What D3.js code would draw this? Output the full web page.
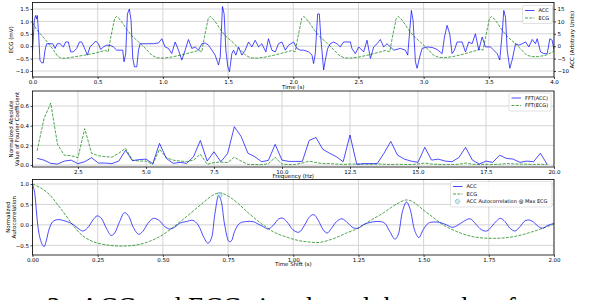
<!doctype html>
<html lang="en">
  <head>
    <meta charset="utf-8" />
    <title>ACC and ECG</title>
    <script src="https://cdn.jsdelivr.net/npm/d3@7"></script>
    <style>
      body { margin: 0; background: #fff; }
      svg { display: block; }
      text { font-family: "DejaVu Sans", sans-serif; fill: #000; }
    </style>
  </head>
  <body>
    <svg id="main" width="600" height="300"></svg>
    <script>
      // ---- panel 1: raw signals over 4 s ----
      const ecgTime = [0, 0.03, 0.05, 0.08, 0.12, 0.16, 0.19, 0.22, 0.26, 0.32, 0.40, 0.48, 0.55,
        0.56, 0.58, 0.60, 0.63, 0.645, 0.67, 0.695, 0.725, 0.765, 0.825, 0.875, 0.915, 0.955, 1.005, 1.065, 1.145, 1.225, 1.275,
        1.298, 1.318, 1.348, 1.363, 1.388, 1.413, 1.443, 1.483, 1.543, 1.593, 1.633, 1.673, 1.723, 1.783, 1.863, 1.943, 1.993,
        2.015, 2.035, 2.065, 2.08, 2.105, 2.13, 2.16, 2.20, 2.26, 2.31, 2.35, 2.39, 2.44, 2.50, 2.58, 2.66, 2.71,
        2.74, 2.76, 2.79, 2.805, 2.83, 2.855, 2.885, 2.925, 2.985, 3.035, 3.075, 3.115, 3.165, 3.225, 3.305, 3.385, 3.435,
        3.455, 3.475, 3.505, 3.52, 3.545, 3.57, 3.60, 3.64, 3.70, 3.75, 3.79, 3.83, 3.88, 3.94, 4.0];
      const ecgValue = [0.95, 0.68, 0.55, 0.38, 0.13, -0.15, -0.38, -0.49, -0.48, -0.43, -0.36, -0.28, -0.18,
        -0.17, -0.23, 0.35, 1.12, 1.2, 1.08, 0.9, 0.66, 0.40, 0.12, -0.14, -0.36, -0.47, -0.48, -0.44, -0.35, -0.24, -0.17,
        -0.23, 0.35, 1.12, 1.2, 1.08, 0.9, 0.66, 0.40, 0.12, -0.14, -0.36, -0.47, -0.48, -0.44, -0.35, -0.24, -0.17,
        -0.23, 0.35, 1.12, 1.2, 1.08, 0.9, 0.66, 0.40, 0.12, -0.14, -0.36, -0.47, -0.48, -0.44, -0.35, -0.24, -0.17,
        -0.23, 0.35, 1.12, 1.2, 1.08, 0.9, 0.66, 0.40, 0.12, -0.14, -0.36, -0.45, -0.46, -0.42, -0.32, -0.2, -0.12,
        -0.16, 0.35, 1.12, 1.2, 1.08, 0.9, 0.66, 0.40, 0.12, -0.14, -0.36, -0.42, -0.42, -0.36, -0.2];

      const accTime = [0, 0.014, 0.024, 0.032, 0.037, 0.047, 0.057, 0.07, 0.083, 0.096, 0.109, 0.134, 0.155, 0.173, 0.19,
        0.211, 0.237, 0.254, 0.275, 0.293, 0.313, 0.339, 0.36, 0.377, 0.395, 0.421, 0.441, 0.467, 0.485, 0.505, 0.523,
        0.544, 0.569, 0.595, 0.62, 0.646, 0.672, 0.692, 0.702, 0.715, 0.728, 0.743, 0.756, 0.769, 0.782, 0.8, 0.813,
        0.825, 0.877, 0.928, 0.966, 0.992, 1.017, 1.043, 1.068, 1.094, 1.12, 1.145, 1.171, 1.196, 1.222, 1.248, 1.273,
        1.299, 1.324, 1.35, 1.376, 1.401, 1.427, 1.44, 1.457, 1.47, 1.483, 1.498, 1.511, 1.529, 1.542, 1.56, 1.58,
        1.606, 1.631, 1.657, 1.683, 1.708, 1.734, 1.759, 1.79, 1.81, 1.836, 1.862, 1.887, 1.913, 1.939, 1.964, 2.003,
        2.028, 2.054, 2.08, 2.118, 2.144, 2.156, 2.169, 2.187, 2.2, 2.213, 2.233, 2.246, 2.264, 2.284, 2.31, 2.335,
        2.361, 2.386, 2.412, 2.438, 2.45, 2.476, 2.502, 2.54, 2.566, 2.592, 2.617, 2.643, 2.668, 2.694, 2.719, 2.745,
        2.771, 2.822, 2.86, 2.878, 2.906, 2.919, 2.937, 2.95, 2.97, 2.988, 3.027, 3.065, 3.103, 3.142, 3.16, 3.18,
        3.2, 3.218, 3.236, 3.257, 3.295, 3.321, 3.346, 3.372, 3.397, 3.423, 3.449, 3.474, 3.513, 3.538, 3.564, 3.584,
        3.602, 3.615, 3.628, 3.641, 3.661, 3.679, 3.705, 3.73, 3.756, 3.782, 3.807, 3.833, 3.858, 3.871, 3.897, 3.922,
        3.948, 3.968, 3.986, 4.0];
      const accValue = [-2, 10.4, 12.4, 11, 12.4, 5, -5.6, -6.7, -6.7, -1.6, 1, 1, 1, -0.9, 1,
        1, -0.3, 1.7, 1.7, -2.3, -2.3, -0.9, 1.7, 1.7, -0.3, -3.6, -0.3, 1, 2.1, 1, -1.3,
        -0.3, 0.4, 0.4, -0.3, -1.6, -1.6, -1.6, -6.3, -3, 13, 15, 10.4, -4.9, -8.3, -8.3, -1.6,
        1, 1, 1, 1.3, 3, -0.3, -0.9, -3, 1.7, -1.6, -5.6, -1.6, 2.7, -0.9, -0.3, -1.6,
        1, 1.3, 0.4, -1.6, -3.6, -7.6, -4.3, 16, 13, -1.6, -8.3, -10.3, -3, -1.6, -3.6, -0.3,
        -3.6, -1.6, 1.7, -0.3, 2.4, -0.3, 1, -2.3, 3, -1.6, -2.3, 1, 1.7, -1.6, 0.4, 1.7,
        -0.9, -1.6, -1.6, -2.3, -3.6, -7, -3, 13, 13, 2.4, -9.6, -5.6, -0.9, 1, 1.7, 1,
        -0.3, 1.7, 1.7, 1.7, -0.9, -3, -0.3, -2.3, 2.4, -4.9, -0.3, 1, 2.7, -0.3, 1, -0.3,
        -1.6, -0.9, -1.6, -3.6, 14.4, 10.4, -6.3, -8.9, -4.3, -0.9, -0.3, -0.5, -1.3, -3, 3.7, 8.4,
        5, -3, -1.6, 1.7, 1.7, -2.3, 1.7, 1, 5, -1.6, 3.7, -0.3, -0.3, -1.6, -3, -5.6,
        5, 14.4, 11.7, -1.6, -8.9, -5.6, 1, 0.4, 1, 1.7, -0.3, 2.7, 1, 3, -2.3, -3,
        -3, 3, 2.4, -1.6];

      // ---- panel 2: normalized FFT magnitudes ----
      const fftFreq = [1, 1.25, 1.5, 1.75, 2, 2.25, 2.5, 2.75, 3, 3.25, 3.5, 3.75, 4, 4.25, 4.5, 4.75,
        5, 5.25, 5.5, 5.75, 6, 6.25, 6.5, 6.75, 7, 7.25, 7.5, 7.75, 8, 8.25, 8.5, 8.75,
        9, 9.25, 9.5, 9.75, 10, 10.25, 10.5, 10.75, 11, 11.25, 11.5, 11.75, 12, 12.25, 12.5, 12.75,
        13, 13.25, 13.5, 13.75, 14, 14.25, 14.5, 14.75, 15, 15.25, 15.5, 15.75, 16, 16.25, 16.5, 16.75,
        17, 17.25, 17.5, 17.75, 18, 18.25, 18.5, 18.75, 19, 19.25, 19.5, 19.75];
      const fftAcc = [0.068, 0.05, 0.017, 0.01, 0.04, 0.05, 0.014, 0.034, 0.075, 0.02, 0.02, 0.014, 0.04, 0.15, 0.045, 0.055,
        0.06, 0.014, 0.22, 0.068, 0.017, 0.027, 0.017, 0.085, 0.25, 0.04, 0.135, 0.034, 0.115, 0.39, 0.29, 0.12,
        0.085, 0.034, 0.047, 0.21, 0.05, 0.037, 0.037, 0.037, 0.25, 0.28, 0.16, 0.12, 0.085, 0.034, 0.305, 0.007,
        0.014, 0.014, 0.014, 0.12, 0.24, 0.1, 0.06, 0.04, 0.027, 0.18, 0.05, 0.06, 0.04, 0.034, 0.075, 0.18,
        0.05, 0.01, 0.04, 0.027, 0.1, 0.068, 0.06, 0.027, 0.04, 0.034, 0.12, 0.007];
      const fftEcg = [0.146, 0.47, 0.63, 0.21, 0.1, 0.095, 0.075, 0.37, 0.12, 0.095, 0.085, 0.08, 0.12, 0.17, 0.05, 0.04,
        0.04, 0.007, 0.16, 0.075, 0.05, 0.04, 0.035, 0.05, 0.11, 0.007, 0.025, 0.03, 0.025, 0.08, 0.04, 0.007,
        0.004, 0.004, 0.013, 0.078, 0.01, 0.004, 0.006, 0.02, 0.04, 0.025, 0.015, 0.015, 0.01, 0.006, 0.01, 0.01,
        0.01, 0.008, 0.012, 0.008, 0.005, 0.008, 0.006, 0.006, 0.01, 0.02, 0.01, 0.006, 0.006, 0.006, 0.008, 0.02,
        0.008, 0.005, 0.008, 0.006, 0.008, 0.015, 0.012, 0.01, 0.008, 0.006, 0.008, 0.004];

      // ---- panel 3: normalized autocorrelations ----
      const acLagEcg = [0, 0.033, 0.065, 0.097, 0.129, 0.16, 0.193, 0.232, 0.283, 0.347, 0.4, 0.45, 0.5, 0.551,
        0.6, 0.65, 0.69, 0.715, 0.74, 0.78, 0.83, 0.884, 0.93, 0.98, 1.025, 1.063, 1.1, 1.153, 1.204, 1.249,
        1.294, 1.345, 1.396, 1.434, 1.46, 1.498, 1.537, 1.575, 1.626, 1.69, 1.767, 1.844, 1.921, 2.0];
      const acEcg = [1, 0.9, 0.74, 0.49, 0.22, -0.05, -0.27, -0.41, -0.49, -0.52, -0.49, -0.4, -0.24, 0,
        0.25, 0.52, 0.72, 0.78, 0.74, 0.57, 0.28, 0, -0.19, -0.31, -0.39, -0.42, -0.43, -0.34, -0.2, -0.08,
        0.1, 0.29, 0.51, 0.61, 0.56, 0.37, 0.18, 0, -0.16, -0.29, -0.33, -0.29, -0.16, 0.02];
      const acLagAcc = [0, 0.008, 0.014, 0.02, 0.029, 0.04, 0.045, 0.052, 0.065, 0.078, 0.097, 0.116, 0.148, 0.174,
        0.193, 0.212, 0.232, 0.248, 0.264, 0.283, 0.302, 0.315, 0.334, 0.353, 0.37, 0.385, 0.407, 0.423, 0.443,
        0.464, 0.487, 0.507, 0.526, 0.545, 0.564, 0.59, 0.615, 0.635, 0.656, 0.673, 0.686, 0.699, 0.714, 0.724,
        0.737, 0.754, 0.763, 0.775, 0.795, 0.82, 0.846, 0.865, 0.884, 0.903, 0.922, 0.945, 0.961, 0.98, 0.999,
        1.022, 1.044, 1.063, 1.079, 1.095, 1.115, 1.13, 1.147, 1.166, 1.187, 1.21, 1.23, 1.249, 1.268, 1.294,
        1.332, 1.351, 1.37, 1.39, 1.402, 1.419, 1.434, 1.447, 1.467, 1.482, 1.498, 1.518, 1.537, 1.562, 1.588,
        1.611, 1.633, 1.652, 1.678, 1.7, 1.722, 1.742, 1.761, 1.78, 1.795, 1.812, 1.831, 1.85, 1.87, 1.889,
        1.905, 1.921, 1.94, 1.957, 1.974, 2.0];
      const acAcc = [1, 0.8, 0.41, 0, -0.33, -0.51, -0.53, -0.41, -0.08, 0.08, 0.13, 0.11, 0.04, -0.08,
        -0.15, -0.07, 0.12, 0.22, 0.16, -0.08, -0.26, -0.2, 0.08, 0.3, 0.2, -0.04, -0.23, -0.16, 0.04,
        0.16, 0.1, -0.04, -0.1, -0.06, 0.04, 0.08, 0.11, 0, -0.29, -0.45, -0.33, 0.25, 0.72, 0.57,
        0, -0.41, -0.39, -0.16, 0.04, 0.08, 0.08, 0.02, -0.04, -0.1, -0.02, 0.15, 0.16, 0.04, -0.12,
        -0.18, 0, 0.2, 0.25, 0.12, -0.12, -0.2, -0.08, 0.08, 0.15, 0.04, -0.07, -0.08, 0, 0.06,
        0.08, 0.04, -0.16, -0.35, -0.25, 0.33, 0.56, 0.41, -0.16, -0.31, -0.12, 0.04, 0.07, 0.06, 0,
        -0.06, 0, 0.08, 0.15, 0.02, -0.12, -0.15, -0.04, 0.1, 0.16, 0.08, -0.08, -0.15, -0.04, 0.1,
        0.12, 0.07, -0.04, -0.08, -0.02, 0.04];
      const maxEcgLag = [0.718];
      const maxEcgAcc = [0.735];

      const BLUE = 'rgba(0,0,255,0.7)';
      const GREEN = 'rgba(0,128,0,0.7)';
      const DASH = '3,1.3';
      const left = 32.5;
      const right = 554;

      const svg = d3.select('#main');

      function zip(a, b) {
        return a.map((v, i) => [v, b[i]]);
      }

      function panel(opt) {
        const x = d3.scaleLinear().domain(opt.xDomain).range([left, right]);
        const y = d3.scaleLinear().domain(opt.yDomain).range([opt.bottom, opt.top]);
        const g = svg.append('g');

        // grid
        g.append('g')
          .selectAll('line.v')
          .data(opt.xTicks)
          .join('line')
          .attr('x1', (d) => x(d)).attr('x2', (d) => x(d))
          .attr('y1', opt.top).attr('y2', opt.bottom)
          .attr('stroke', '#d4d4d4').attr('stroke-width', 1);
        g.append('g')
          .selectAll('line.h')
          .data(opt.yTicks)
          .join('line')
          .attr('x1', left).attr('x2', right)
          .attr('y1', (d) => y(d)).attr('y2', (d) => y(d))
          .attr('stroke', '#d4d4d4').attr('stroke-width', 1);

        const clipId = 'clip' + opt.top;
        svg.append('clipPath').attr('id', clipId)
          .append('rect').attr('x', left).attr('y', opt.top)
          .attr('width', right - left).attr('height', opt.bottom - opt.top);
        const plot = g.append('g').attr('clip-path', `url(#${clipId})`);

        // axes
        const xAxis = d3.axisBottom(x).tickValues(opt.xTicks).tickFormat(d3.format(opt.xFmt)).tickSize(2).tickPadding(1.5);
        g.append('g').attr('transform', `translate(0,${opt.bottom})`).call(xAxis).call(styleAxis);
        const yAxis = d3.axisLeft(y).tickValues(opt.yTicks).tickFormat(d3.format(opt.yFmt)).tickSize(2).tickPadding(1.5);
        g.append('g').attr('transform', `translate(${left},0)`).call(yAxis).call(styleAxis);

        g.append('text')
          .attr('x', (left + right) / 2).attr('y', opt.bottom + opt.xLabelDy)
          .attr('text-anchor', 'middle').attr('font-size', 5.5)
          .text(opt.xLabel);

        const cy = (opt.top + opt.bottom) / 2;
        opt.yLabel.forEach((line, i) => {
          const lx = opt.yLabelX + i * 6.3;
          g.append('text')
            .attr('transform', `translate(${lx},${cy}) rotate(-90)`)
            .attr('text-anchor', 'middle').attr('font-size', 5.5)
            .text(line);
        });

        return { x, y, g, plot };
      }

      function styleAxis(sel) {
        sel.select('.domain').remove();
        sel.selectAll('.tick line').attr('stroke', '#000').attr('stroke-width', 0.7);
        sel.selectAll('.tick text').attr('font-size', 5.5).attr('font-family', '"DejaVu Sans", sans-serif').attr('fill', '#000');
      }

      function frame(p, opt) {
        p.g.append('rect')
          .attr('x', left).attr('y', opt.top)
          .attr('width', right - left).attr('height', opt.bottom - opt.top)
          .attr('fill', 'none').attr('stroke', '#000').attr('stroke-width', 0.8);
      }

      function legend(g, x0, y0, w, items) {
        const rowH = 7.5;
        g.append('rect')
          .attr('x', x0).attr('y', y0)
          .attr('width', w).attr('height', items.length * rowH + 3)
          .attr('rx', 1.5)
          .attr('fill', 'rgba(255,255,255,0.85)').attr('stroke', '#ccc').attr('stroke-width', 0.6);
        items.forEach((it, i) => {
          const yy = y0 + 5 + i * rowH;
          if (it.marker) {
            g.append('circle').attr('cx', x0 + 7).attr('cy', yy).attr('r', 2.3)
              .attr('fill', 'rgba(173,216,230,0.6)').attr('stroke', 'rgba(0,128,128,0.7)')
              .attr('stroke-width', 0.7).attr('stroke-dasharray', '0.8,0.6');
          } else {
            g.append('line')
              .attr('x1', x0 + 2.5).attr('x2', x0 + 12).attr('y1', yy).attr('y2', yy)
              .attr('stroke', it.color).attr('stroke-width', 1)
              .attr('stroke-dasharray', it.dash || null);
          }
          g.append('text').attr('x', x0 + 16).attr('y', yy + 1.8)
            .attr('font-size', 5).text(it.label);
        });
      }

      // ---------- panel 1 ----------
      const o1 = {
        top: 2.5, bottom: 77, xDomain: [0, 4], yDomain: [-1.242, 1.762],
        xTicks: [0, 0.5, 1, 1.5, 2, 2.5, 3, 3.5, 4], yTicks: [-1, -0.5, 0, 0.5, 1, 1.5],
        xFmt: '.1f', yFmt: '.1f', xLabel: 'Time (s)', xLabelDy: 12, yLabel: ['ECG (mV)'], yLabelX: 13
      };
      const p1 = panel(o1);
      const yAcc = d3.scaleLinear().domain([-12.42, 17.62]).range([o1.bottom, o1.top]);
      p1.g.append('g').attr('transform', `translate(${right},0)`)
        .call(d3.axisRight(yAcc).tickValues([-10, -5, 0, 5, 10, 15]).tickFormat(d3.format('d')).tickSize(2).tickPadding(1.5))
        .call(styleAxis);
      p1.g.append('text')
        .attr('transform', `translate(574,${(o1.top + o1.bottom) / 2}) rotate(-90)`)
        .attr('text-anchor', 'middle').attr('font-size', 5.5)
        .text('ACC (Arbitrary Units)');

      p1.plot.append('path')
        .datum(zip(ecgTime, ecgValue))
        .attr('d', d3.line().x((d) => p1.x(d[0])).y((d) => p1.y(d[1])))
        .attr('fill', 'none').attr('stroke', GREEN).attr('stroke-width', 1).attr('stroke-dasharray', DASH);
      p1.plot.append('path')
        .datum(zip(accTime, accValue))
        .attr('d', d3.line().x((d) => p1.x(d[0])).y((d) => yAcc(d[1])))
        .attr('fill', 'none').attr('stroke', BLUE).attr('stroke-width', 1);
      frame(p1, o1);
      legend(p1.g, 522.5, 5.5, 30, [
        { label: 'ACC', color: BLUE },
        { label: 'ECG', color: GREEN, dash: DASH }
      ]);

      // ---------- panel 2 ----------
      const o2 = {
        top: 91, bottom: 167, xDomain: [0.83, 20], yDomain: [-0.02, 0.753],
        xTicks: [2.5, 5, 7.5, 10, 12.5, 15, 17.5, 20], yTicks: [0, 0.2, 0.4, 0.6],
        xFmt: '.1f', yFmt: '.1f', xLabel: 'Frequency (Hz)', xLabelDy: 10.7,
        yLabel: ['Normalized Absolute', 'Value of Fourier Coefficient'], yLabelX: 13
      };
      const p2 = panel(o2);
      p2.plot.append('path')
        .datum(zip(fftFreq, fftEcg))
        .attr('d', d3.line().x((d) => p2.x(d[0])).y((d) => p2.y(d[1])))
        .attr('fill', 'none').attr('stroke', GREEN).attr('stroke-width', 1).attr('stroke-dasharray', DASH);
      p2.plot.append('path')
        .datum(zip(fftFreq, fftAcc))
        .attr('d', d3.line().x((d) => p2.x(d[0])).y((d) => p2.y(d[1])))
        .attr('fill', 'none').attr('stroke', BLUE).attr('stroke-width', 1);
      frame(p2, o2);
      legend(p2.g, 509, 93, 42, [
        { label: 'FFT(ACC)', color: BLUE },
        { label: 'FFT(ECG)', color: GREEN, dash: DASH }
      ]);

      // ---------- panel 3 ----------
      const o3 = {
        top: 179.5, bottom: 255, xDomain: [0, 2], yDomain: [-0.737, 1.11],
        xTicks: [0, 0.25, 0.5, 0.75, 1, 1.25, 1.5, 1.75, 2], yTicks: [-0.5, 0, 0.5, 1],
        xFmt: '.2f', yFmt: '.1f', xLabel: 'Time Shift (s)', xLabelDy: 11,
        yLabel: ['Normalized', 'Autocorrelation'], yLabelX: 10
      };
      const p3 = panel(o3);
      p3.plot.append('path')
        .datum(zip(acLagEcg, acEcg))
        .attr('d', d3.line().curve(d3.curveCatmullRom).x((d) => p3.x(d[0])).y((d) => p3.y(d[1])))
        .attr('fill', 'none').attr('stroke', GREEN).attr('stroke-width', 1).attr('stroke-dasharray', DASH);
      p3.plot.append('path')
        .datum(zip(acLagAcc, acAcc))
        .attr('d', d3.line().curve(d3.curveCatmullRom).x((d) => p3.x(d[0])).y((d) => p3.y(d[1])))
        .attr('fill', 'none').attr('stroke', BLUE).attr('stroke-width', 1);
      p3.plot.selectAll('circle.mx')
        .data(zip(maxEcgLag, maxEcgAcc))
        .join('circle')
        .attr('cx', (d) => p3.x(d[0])).attr('cy', (d) => p3.y(d[1])).attr('r', 2.5)
        .attr('fill', 'rgba(173,216,230,0.6)').attr('stroke', 'rgba(0,128,128,0.7)')
        .attr('stroke-width', 0.7).attr('stroke-dasharray', '0.8,0.6');
      frame(p3, o3);
      legend(p3.g, 450.5, 181.5, 101.5, [
        { label: 'ACC', color: BLUE },
        { label: 'ECG', color: GREEN, dash: DASH },
        { label: 'ACC Autocorrelation @ Max ECG', marker: true }
      ]);

      // caption of the page the figure was cut from (only its top is visible)
      svg.append('text')
        .attr('x', 68).attr('y', 316)
        .attr('text-anchor', 'end')
        .style('font-family', '"Liberation Serif", serif').attr('font-size', 27)
        .text('Figure 3:');
      svg.append('text')
        .attr('x', 80).attr('y', 316)
        .style('font-family', '"Liberation Serif", serif').attr('font-size', 27)
        .text('ACC and ECG signals and the results of');
    </script>
  </body>
</html>
